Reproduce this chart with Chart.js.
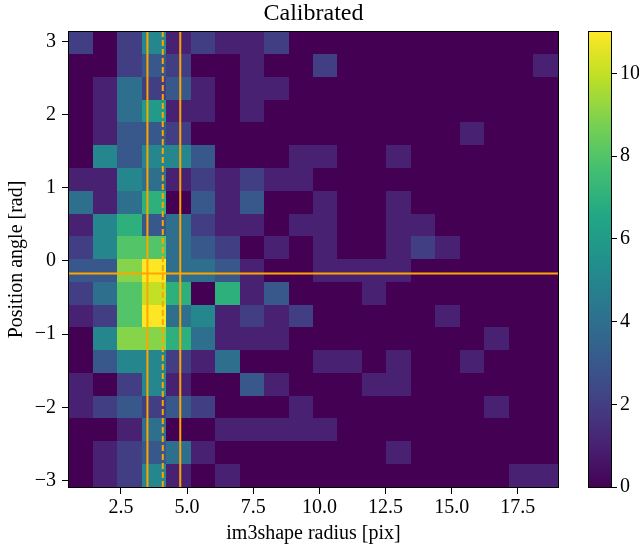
<!DOCTYPE html>
<html lang="en">
<head>
<meta charset="UTF-8">
<title>Calibrated</title>
<script src="https://cdn.jsdelivr.net/npm/chart.js"></script>
<style>
  html, body { margin: 0; padding: 0; background: #fff; }
  #wrap { position: relative; width: 639px; height: 551px; }
  #main { position: absolute; left: 0; top: 0; }
  #cbar { position: absolute; left: 580px; top: 0; }
</style>
</head>
<body>
<div id="wrap">
  <canvas id="main" width="639" height="551"></canvas>
  <canvas id="cbar" width="59" height="551"></canvas>
</div>
<script>
  // histogram range (bin edges span these)
  const xMin = 0.535, xMax = 19.02;
  const yMin = -3.09, yMax = 3.13;

  // counts per bin, rows from top (high angle) to bottom, 20 radius bins each
  const counts = [
    [2,0,2,5,1,2,1,1,2,0, 0,0,0,0,0,0,0,0,0,0],
    [0,0,2,3,2,0,0,1,0,0, 2,0,0,0,0,0,0,0,0,1],
    [0,1,4,2,3,1,0,1,1,0, 0,0,0,0,0,0,0,0,0,0],
    [0,1,4,6,1,1,0,1,0,0, 0,0,0,0,0,0,0,0,0,0],
    [0,1,3,3,2,0,0,0,0,0, 0,0,0,0,0,0,1,0,0,0],
    [0,5,3,5,5,3,0,0,0,1, 1,0,0,1,0,0,0,0,0,0],
    [1,1,5,4,1,2,1,2,1,1, 0,0,0,0,0,0,0,0,0,0],
    [4,1,4,7,0,3,1,3,0,0, 1,0,0,1,0,0,0,0,0,0],
    [1,5,7,3,4,2,1,1,0,1, 1,0,0,1,1,0,0,0,0,0],
    [2,5,8,8,4,3,2,0,1,0, 1,0,0,1,2,1,0,0,0,0],
    [3,3,9,11,4,4,3,1,0,0, 1,1,1,1,0,0,0,0,0,0],
    [2,4,8,10,7,0,7,1,3,0, 0,0,1,0,0,0,0,0,0,0],
    [1,2,8,11,4,5,1,2,1,2, 0,0,0,0,0,1,0,0,0,0],
    [0,5,9,9,7,4,1,1,1,0, 0,0,0,0,0,0,0,1,0,0],
    [0,3,5,5,2,1,4,0,0,0, 1,1,0,1,0,0,1,0,0,0],
    [1,0,2,5,1,0,0,3,1,0, 0,0,1,1,0,0,0,0,0,0],
    [1,2,3,2,3,2,0,0,0,1, 0,0,0,0,0,0,0,1,0,0],
    [0,0,1,4,0,0,1,1,1,1, 1,0,0,0,0,0,0,0,0,0],
    [0,1,2,3,4,1,0,0,0,0, 0,0,0,1,0,0,0,0,0,0],
    [0,1,2,5,1,0,1,0,0,0, 0,0,0,0,0,0,0,0,1,1]
  ];

  const xTicks = [2.5, 5, 7.5, 10, 12.5, 15, 17.5];
  const yTicks = [-3, -2, -1, 0, 1, 2, 3];
  const cbTicks = [0, 2, 4, 6, 8, 10];
  const cbMax = 11;

  // reference lines
  const vLines = [3.5, 4.08, 4.74];
  const vDashed = [false, true, false];
  const hLine = -0.17;

  const FONT = 'Liberation Serif, Times New Roman, serif';
  const ORANGE = '#ffa500';

  // viridis anchors at 0, 0.1 ... 1
  const VIRIDIS = ['#440154','#482475','#414487','#355f8d','#2a788e','#21918c',
                   '#22a884','#44bf70','#7ad151','#bddf26','#fde725'];

  function hexToRgb(h) {
    return [parseInt(h.slice(1,3),16), parseInt(h.slice(3,5),16), parseInt(h.slice(5,7),16)];
  }
  function viridis(t) {
    t = Math.max(0, Math.min(1, t));
    const f = t * 10, i = Math.min(9, Math.floor(f)), u = f - i;
    const a = hexToRgb(VIRIDIS[i]), b = hexToRgb(VIRIDIS[i + 1]);
    const c = a.map((v, k) => Math.round(v + (b[k] - v) * u));
    return 'rgb(' + c.join(',') + ')';
  }

  const minus = v => v < 0 ? '\u2212' + Math.abs(v) : String(v);

  // draws the 2d histogram cells through the chart scales
  const heatmap = {
    id: 'heatmap',
    beforeDatasetsDraw(chart) {
      const { ctx, chartArea: ca, scales: { x, y } } = chart;
      const ny = counts.length, nx = counts[0].length;
      const dx = (xMax - xMin) / nx, dy = (yMax - yMin) / ny;
      ctx.save();
      ctx.beginPath();
      ctx.rect(ca.left, ca.top, ca.right - ca.left, ca.bottom - ca.top);
      ctx.clip();
      counts.forEach((row, r) => {
        const top = y.getPixelForValue(yMax - r * dy);
        const bot = y.getPixelForValue(yMax - (r + 1) * dy);
        row.forEach((v, c) => {
          const l = x.getPixelForValue(xMin + c * dx);
          const rr = x.getPixelForValue(xMin + (c + 1) * dx);
          ctx.fillStyle = viridis(v / cbMax);
          ctx.fillRect(Math.floor(l), Math.floor(top), Math.ceil(rr) - Math.floor(l), Math.ceil(bot) - Math.floor(top));
        });
      });
      ctx.restore();
    }
  };

  // black box around the plot area
  const frame = {
    id: 'frame',
    afterDraw(chart) {
      const { ctx, chartArea: ca } = chart;
      ctx.save();
      ctx.strokeStyle = '#000';
      ctx.lineWidth = 1;
      ctx.strokeRect(Math.round(ca.left) - 0.5, Math.round(ca.top) - 0.5,
                     Math.round(ca.right - ca.left) + 1, Math.round(ca.bottom - ca.top) + 1);
      ctx.restore();
    }
  };

  const lineSets = vLines.map((v, i) => ({
    data: [{ x: v, y: yMin }, { x: v, y: yMax }],
    borderDash: vDashed[i] ? [6, 3] : []
  }));
  lineSets.push({ data: [{ x: xMin, y: hLine }, { x: xMax, y: hLine }], borderDash: [] });

  const tickFont = { family: FONT, size: 20 };

  new Chart(document.getElementById('main'), {
    type: 'scatter',
    data: {
      datasets: lineSets.map(s => ({
        data: s.data,
        showLine: true,
        borderColor: ORANGE,
        borderWidth: 2,
        borderDash: s.borderDash,
        pointRadius: 0
      }))
    },
    options: {
      responsive: false,
      animation: false,
      layout: { padding: { left: 0, right: 81, top: 0, bottom: 0 } },
      plugins: {
        legend: { display: false },
        tooltip: { enabled: false },
        title: {
          display: true,
          text: 'Calibrated',
          fullSize: false,
          color: '#000',
          font: { family: FONT, size: 24, weight: 'normal', lineHeight: 1 },
          padding: { top: 2, bottom: 6 }
        }
      },
      scales: {
        x: {
          type: 'linear',
          min: xMin,
          max: xMax,
          afterBuildTicks: s => { s.ticks = xTicks.map(v => ({ value: v })); },
          afterFit: s => { s.height = 64; },
          border: { display: false },
          grid: { drawOnChartArea: false, drawTicks: true, tickLength: 7, tickColor: '#000', color: '#000' },
          ticks: { color: '#000', font: tickFont, padding: 2, maxRotation: 0, callback: v => v.toFixed(1) },
          title: { display: true, text: 'im3shape radius [pix]', color: '#000', font: tickFont, padding: { top: 0, bottom: 5 } }
        },
        y: {
          type: 'linear',
          min: yMin,
          max: yMax,
          afterBuildTicks: s => { s.ticks = yTicks.map(v => ({ value: v })); },
          afterFit: s => { s.width = 69; },
          border: { display: false },
          grid: { drawOnChartArea: false, drawTicks: true, tickLength: 7, tickColor: '#000', color: '#000' },
          ticks: { color: '#000', font: tickFont, padding: 6, callback: v => minus(v) },
          title: { display: true, text: 'Position angle [rad]', color: '#000', font: tickFont, padding: { top: 5, bottom: 0 } }
        }
      }
    },
    plugins: [heatmap, frame]
  });

  // colorbar: gradient filled through its own value scale
  const colorbar = {
    id: 'colorbar',
    beforeDatasetsDraw(chart) {
      const { ctx, chartArea: ca, scales: { y } } = chart;
      const g = ctx.createLinearGradient(0, y.getPixelForValue(0), 0, y.getPixelForValue(cbMax));
      VIRIDIS.forEach((c, i) => g.addColorStop(i / 10, c));
      ctx.save();
      ctx.fillStyle = g;
      ctx.fillRect(ca.left, ca.top, ca.right - ca.left, ca.bottom - ca.top);
      ctx.restore();
    }
  };

  new Chart(document.getElementById('cbar'), {
    type: 'scatter',
    data: { datasets: [] },
    options: {
      responsive: false,
      animation: false,
      layout: { padding: { left: 9, right: 0, top: 32, bottom: 64 } },
      plugins: { legend: { display: false }, tooltip: { enabled: false } },
      scales: {
        x: { display: false, min: 0, max: 1 },
        y: {
          position: 'right',
          min: 0,
          max: cbMax,
          afterBuildTicks: s => { s.ticks = cbTicks.map(v => ({ value: v })); },
          afterFit: s => { s.width = 28; },
          border: { display: false },
          grid: { drawOnChartArea: false, drawTicks: true, tickLength: 6, tickColor: '#000', color: '#000' },
          ticks: { color: '#000', font: tickFont, padding: 3 }
        }
      }
    },
    plugins: [colorbar, frame]
  });
</script>
</body>
</html>
